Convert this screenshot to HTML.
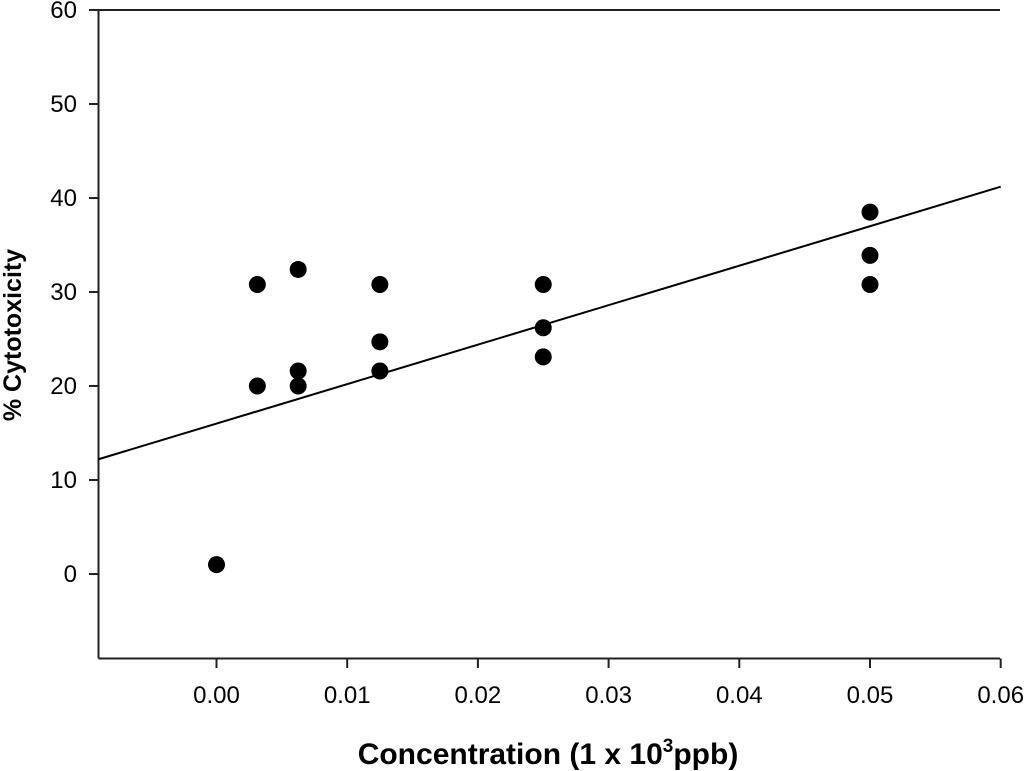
<!DOCTYPE html>
<html><head><meta charset="utf-8"><style>
html,body{margin:0;padding:0;background:#fff;}
svg{display:block;font-family:"Liberation Sans",Arial,sans-serif;}
</style></head><body>
<svg id="chart" width="1024" height="771" viewBox="0 0 1024 771" xmlns="http://www.w3.org/2000/svg">
<g id="axes"></g><g id="marks"></g>
<text x="548" y="764" text-anchor="middle" font-size="30" font-weight="bold">Concentration (1 x 10<tspan dy="-12" font-size="19">3</tspan><tspan dy="12">ppb)</tspan></text>
<text transform="translate(21,335) rotate(-90)" text-anchor="middle" font-size="25" font-weight="bold">% Cytotoxicity</text>
</svg>
<script>
const xVals=[0,0.003125,0.003125,0.00625,0.00625,0.00625,0.0125,0.0125,0.0125,0.025,0.025,0.025,0.05,0.05,0.05];
const yVals=[1.0,30.8,20.0,32.4,21.6,20.0,30.8,24.7,21.6,30.8,26.2,23.1,38.5,33.9,30.8];
const xTicks=[0,0.01,0.02,0.03,0.04,0.05,0.06];
const xTickLabels=["0.00","0.01","0.02","0.03","0.04","0.05","0.06"];
const yTicks=[0,10,20,30,40,50,60];
const fitIntercept=16.0;
const fitSlope=420;
const xMin=-0.00906,xMax=0.06,yMin=-9.05,yMax=60;
const L=98.5,R=1000,T=10,B=658.5;
const NS="http://www.w3.org/2000/svg";
function sx(v){return 216.5+(v)*13070;}
function sy(v){return 574-v*9.4;}
function mk(tag,attrs,parent){const e=document.createElementNS(NS,tag);for(const k in attrs)e.setAttribute(k,attrs[k]);parent.appendChild(e);return e;}
const ax=document.getElementById('axes'),mg=document.getElementById('marks');
let e;
e=mk('line',{x1:L,y1:T,x2:L,y2:B,stroke:'#222','stroke-width':2},ax);


e=mk('line',{x1:L,y1:B,x2:R,y2:B,stroke:'#222','stroke-width':2},ax);


e=mk('line',{x1:89,y1:T,x2:R,y2:T,stroke:'#222','stroke-width':2},ax);


yTicks.forEach(v=>{
 const y=sy(v);
 e=mk('line',{x1:89,y1:y,x2:L,y2:y,stroke:'#222','stroke-width':2},ax);
 
 
 e=mk('text',{x:77,y:y+8,'text-anchor':'end','font-size':24},ax);e.textContent=v;
 
 
});
xTicks.forEach((v,i)=>{
 const x=sx(v);
 e=mk('line',{x1:x,y1:B,x2:x,y2:668,stroke:'#222','stroke-width':2},ax);
 
 
 e=mk('text',{x:x,y:703,'text-anchor':'middle','font-size':24},ax);e.textContent=xTickLabels[i];
 
 
});
e=mk('line',{x1:sx(xMin),y1:sy(fitIntercept+fitSlope*xMin),x2:sx(xMax),y2:sy(fitIntercept+fitSlope*xMax),stroke:'#000','stroke-width':2},mg);


xVals.forEach((v,i)=>{
 e=mk('circle',{cx:sx(v),cy:sy(yVals[i]),r:8.5,fill:'#000'},mg);
 
 
});
</script>
</body></html>
